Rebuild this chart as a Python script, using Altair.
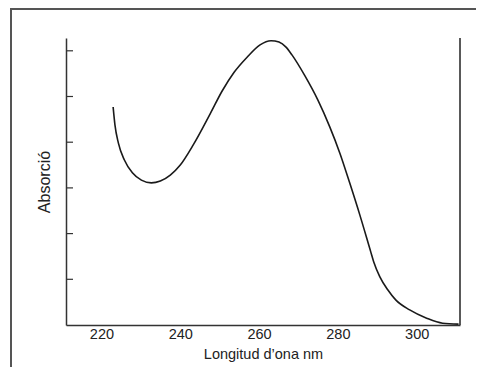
import altair as alt
import pandas as pd

# Curve (wavelength in nm, absorbance in tick units)
wavelength = [222.96, 223.42, 224.30, 225.82, 227.85, 230.13, 232.66, 234.94, 237.47, 240.00,
              243.29, 247.59, 250.63, 253.67, 256.96, 260.25, 263.04, 265.06, 266.84, 268.35,
              271.65, 274.94, 277.97, 280.51, 283.04, 285.57, 288.35, 289.11, 290.63, 292.66,
              294.68, 298.23, 302.53, 306.58, 310.63]
absorbance = [4.77, 4.38, 3.98, 3.61, 3.33, 3.17, 3.11, 3.15, 3.28, 3.50,
              3.94, 4.62, 5.12, 5.53, 5.86, 6.13, 6.22, 6.19, 6.08, 5.91,
              5.45, 4.92, 4.33, 3.76, 3.10, 2.41, 1.60, 1.38, 1.06, 0.77,
              0.55, 0.33, 0.15, 0.04, 0.02]
y_ticks = [1, 2, 3, 4, 5, 6]
x_ticks = [220, 240, 260, 280, 300]

W, H = 394, 287
FONT = "Liberation Sans"
AX = "#333333"

curve_df = pd.DataFrame({"nm": wavelength, "abs": absorbance})
ticks_df = pd.DataFrame({"t": y_ticks})
one = alt.Data(values=[{"a": 1}])

xs = alt.Scale(domain=[211, 311], nice=False, zero=False)
ys = alt.Scale(domain=[0, 6.28], nice=False, zero=False)

curve = alt.Chart(curve_df).mark_line(
    color="#1a1a1a", strokeWidth=1.6, interpolate="monotone"
).encode(
    x=alt.X("nm:Q", scale=xs, axis=alt.Axis(
        values=x_ticks, title="Longitud d\u2019ona nm", ticks=False,
        labelPadding=2, titlePadding=7, domainColor=AX, domainWidth=1.5,
        grid=False)),
    y=alt.Y("abs:Q", scale=ys, axis=alt.Axis(
        title="Absorció", labels=False, ticks=False, titlePadding=14,
        titleFontSize=16,
        domainColor=AX, domainWidth=1.5, grid=False)),
)

yticks = alt.Chart(ticks_df).mark_rule(color=AX, strokeWidth=1.2).encode(
    y=alt.Y("t:Q", scale=ys),
    x=alt.value(0),
    x2=alt.value(7),
)

right_line = alt.Chart(one).mark_rule(color="#222222", strokeWidth=1.5).encode(
    x=alt.value(W), y=alt.value(0), y2=alt.value(H)
)

frame_left = alt.Chart(one).mark_rule(color="#555555", strokeWidth=2).encode(
    x=alt.value(-55), y=alt.value(-29), y2=alt.value(H + 50)
)
frame_top = alt.Chart(one).mark_rule(color="#555555", strokeWidth=2).encode(
    x=alt.value(-56), x2=alt.value(410), y=alt.value(-29)
)

chart = alt.layer(
    frame_left, frame_top, curve, yticks, right_line
).properties(
    width=W, height=H,
    autosize=alt.AutoSizeParams(type="none"),
    padding={"left": 58, "top": 30, "right": 16, "bottom": 42},
).configure_view(stroke=None).configure_axis(
    labelFont=FONT, titleFont=FONT, labelFontSize=14.5, titleFontSize=14.5,
    labelColor="#222222", titleColor="#222222", titleFontWeight="normal",
)

chart.save("out.html", embed_options={"renderer": "svg", "actions": False})
